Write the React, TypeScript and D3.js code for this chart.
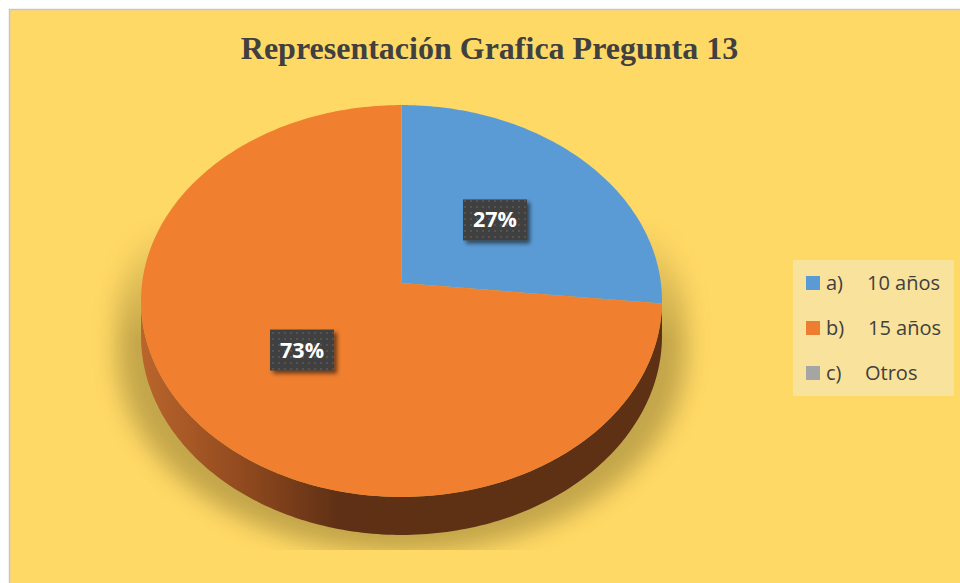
import React from "react";
import * as d3 from "d3";

const title = "Representación Grafica Pregunta 13";
const categories = ["a)", "b)", "c)"];
const categoryNames = ["10 años", "15 años", "Otros"];
const values = [4, 11, 0];
const colors = ["#5B9BD5", "#F0802F", "#A5A5A5"];
const legendColors = ["#5B9BD5", "#ED7D31", "#A5A5A5"];
const wallColors = ["#2E5F8C", "url(#wallGrad)", "#666666"];

// projection of the tilted 3D pie
const CX = 401.5;
const CY = 283;
const A = 259.4;
const B = 194.3;
const K = 0.0918;
const DEPTH = 34.5;

function proj(angle: number, r: number, dz = 0): [number, number] {
  const u = Math.sin(angle) * r;
  const w = -Math.cos(angle) * r;
  const den = 1 - K * w;
  return [CX + (A * u) / den, CY + (B * w + dz) / den];
}

function sample(a0: number, a1: number, r: number, dz = 0): [number, number][] {
  const n = Math.max(2, Math.ceil(((a1 - a0) / (2 * Math.PI)) * 360));
  const s = d3.scaleLinear().domain([0, n]).range([a0, a1]);
  return d3.range(n + 1).map((i) => proj(s(i), r, dz));
}

const line = d3.line<[number, number]>().curve(d3.curveLinear);

export default function App() {
  const total = d3.sum(values);
  const arcs = d3.pie<number>().sort(null).value((d) => d)(values);
  const fmt = d3.format(".0%");
  const frontStart = Math.acos(-K);
  const frontEnd = 2 * Math.PI - frontStart;

  const silhouette =
    line([
      ...sample(0, frontStart, 1),
      ...sample(frontStart, frontEnd, 1, DEPTH),
      ...sample(frontEnd, 2 * Math.PI, 1),
    ]) + "Z";

  const legendY = d3.scalePoint<string>().domain(categories).range([283, 373]);

  return (
    <svg
      width={960}
      height={583}
      style={{ position: "absolute", left: 0, top: 0, display: "block" }}
    >
      <defs>
        <linearGradient id="wallGrad" gradientUnits="userSpaceOnUse" x1={141} x2={662} y1={0} y2={0}>
          <stop offset="0" stopColor="#BA652C" />
          <stop offset="0.2" stopColor="#90491E" />
          <stop offset="0.38" stopColor="#5F3015" />
          <stop offset="1" stopColor="#5E3014" />
        </linearGradient>
        <filter id="shadowBlur" x="-20%" y="-20%" width="140%" height="140%">
          <feGaussianBlur stdDeviation="11" />
        </filter>
        <linearGradient id="shadowFade" gradientUnits="userSpaceOnUse" x1={0} x2={0} y1={215} y2={340}>
          <stop offset="0" stopColor="#fff" stopOpacity="0" />
          <stop offset="1" stopColor="#fff" stopOpacity="1" />
        </linearGradient>
        <mask id="shadowMask" maskUnits="userSpaceOnUse" x={0} y={0} width={960} height={583}>
          <rect x={0} y={0} width={960} height={550} fill="url(#shadowFade)" />
        </mask>
        <pattern id="dots" width={6} height={6} patternUnits="userSpaceOnUse">
          <rect width={6} height={6} fill="#404040" />
          <rect x={2} y={2} width={2} height={2} fill="#535353" />
        </pattern>
        <filter id="boxShadow" x="-30%" y="-30%" width="160%" height="170%">
          <feDropShadow dx="3" dy="3" stdDeviation="2.2" floodColor="#000" floodOpacity="0.55" />
        </filter>
      </defs>

      <rect x={9.5} y={9.5} width={960} height={600} fill="#FFD966" stroke="#C5C6D0" strokeWidth={1.5} />

      <text
        x={489.5}
        y={59}
        textAnchor="middle"
        fontFamily="'Liberation Serif', 'Times New Roman', serif"
        fontWeight="bold"
        fontSize={32}
        fill="#404040"
      >
        {title}
      </text>

      {/* shadow */}
      <g mask="url(#shadowMask)">
        <path
          d={silhouette}
          fill="#6B5A20"
          opacity={0.4}
          filter="url(#shadowBlur)"
          transform={`translate(${CX},18) scale(1.09,1) translate(${-CX},0)`}
        />
      </g>

      {/* side walls */}
      {arcs.map((a, i) => {
        const s = Math.max(a.startAngle, frontStart);
        const e = Math.min(a.endAngle, frontEnd);
        if (e <= s) return null;
        const pts = [...sample(s, e, 1), ...sample(s, e, 1, DEPTH).reverse()];
        return <path key={"w" + i} d={line(pts) + "Z"} fill={wallColors[i]} />;
      })}

      {/* top faces */}
      {arcs.map((a, i) => {
        if (a.endAngle - a.startAngle <= 0) return null;
        const pts = [proj(0, 0), ...sample(a.startAngle, a.endAngle, 1)];
        return <path key={"t" + i} d={line(pts) + "Z"} fill={colors[i]} />;
      })}

      {/* labels */}
      {arcs.map((a, i) => {
        if (a.value <= 0) return null;
        const mid = (a.startAngle + a.endAngle) / 2;
        const [x, y] = proj(mid, 0.5);
        const w = 64;
        const h = 41;
        return (
          <g key={"l" + i}>
            <rect x={x - w / 2} y={y - h / 2} width={w} height={h} fill="url(#dots)" filter="url(#boxShadow)" />
            <text
              x={x}
              y={y + 7.5}
              textAnchor="middle"
              fontFamily="'Open Sans', sans-serif"
              fontWeight="bold"
              fontSize={21.5}
              fill="#FFFFFF"
            >
              {fmt(a.value / total)}
            </text>
          </g>
        );
      })}

      {/* legend */}
      <rect x={793} y={260} width={161} height={136} fill="#F9E29B" />
      {categories.map((c, i) => {
        const y = legendY(c) as number;
        return (
          <g key={"lg" + i}>
            <rect x={806} y={y - 7} width={14} height={14} fill={legendColors[i]} />
            <text
              y={y + 7}
              fontFamily="'Open Sans', sans-serif"
              fontSize={20}
              fill="#404040"
            >
              <tspan x={826}>{c}</tspan>
              <tspan x={i === 2 ? 865 : i === 1 ? 868 : 867}>{categoryNames[i]}</tspan>
            </text>
          </g>
        );
      })}
    </svg>
  );
}
